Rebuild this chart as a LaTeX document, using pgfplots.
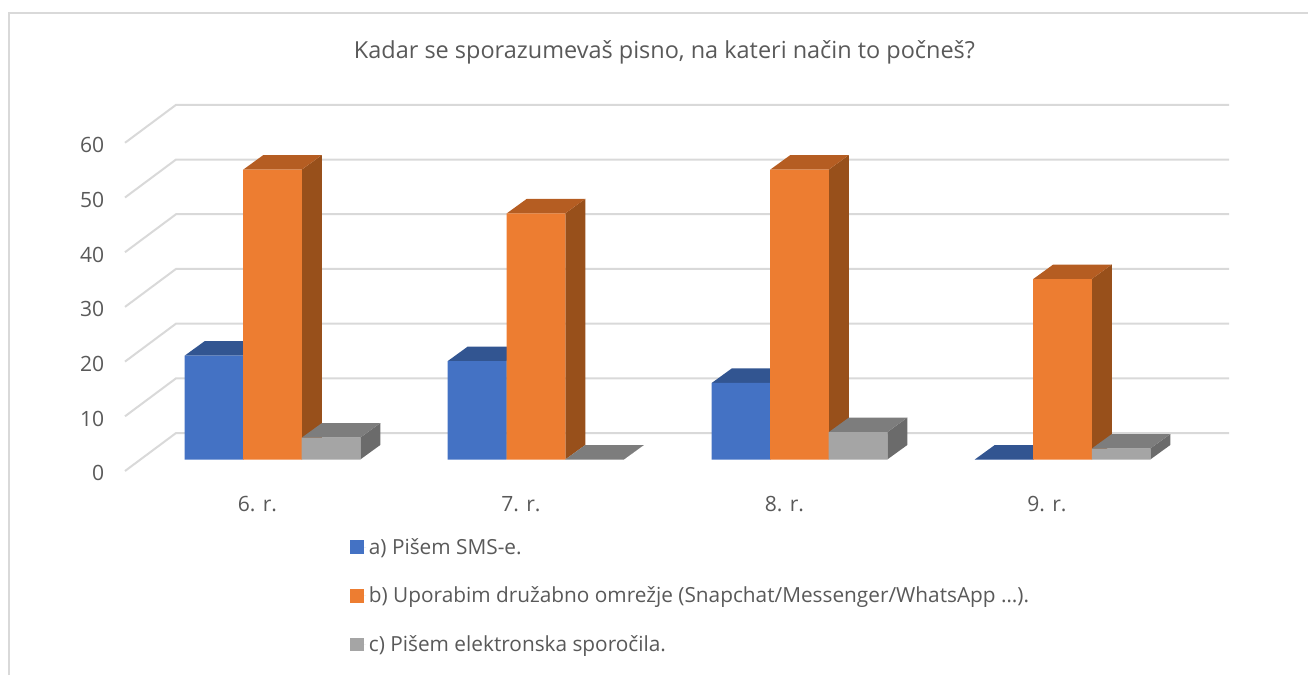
\documentclass[border=0pt]{standalone}
\usepackage{pgfplots}
\pgfplotsset{compat=1.18}
\usepackage{pgfplotstable}
\usepackage{fontspec}
\setmainfont{Open Sans}
\definecolor{txt}{HTML}{595959}
\definecolor{gridc}{HTML}{D9D9D9}
\definecolor{bluef}{HTML}{4472C4}
\definecolor{bluet}{HTML}{325591}
\definecolor{orangef}{HTML}{ED7D31}
\definecolor{oranget}{HTML}{B55D22}
\definecolor{oranges}{HTML}{98501B}
\definecolor{grayf}{HTML}{A5A5A5}
\definecolor{grayt}{HTML}{7D7D7D}
\definecolor{grays}{HTML}{6B6B6B}
\pgfplotstableread{
x v
214 19
477 18
741 14
1004 0
}\seriesa
\pgfplotstableread{
x v
272.5 53
536 45
799.5 53
1062.5 33
}\seriesb
\pgfplotstableread{
x v
331 4
594.5 0
858 5
1121 2
}\seriesc
% side and top face of a bar: centre x, value, top colour, side colour
\newcommand{\cube}[4]{%
  \pgfmathsetmacro{\xa}{#1-29.25}\pgfmathsetmacro{\xb}{#1+29.25}%
  \pgfmathsetmacro{\xc}{#1+49.25}\pgfmathsetmacro{\xd}{#1-9.25}%
  \pgfmathsetmacro{\yt}{#2+2.65}%
  \edef\cubecmd{%
    \noexpand\addplot[fill=#4,draw=none,forget plot] coordinates {(\xb,0)(\xc,2.65)(\xc,\yt)(\xb,#2)} -- cycle;
    \noexpand\addplot[fill=#3,draw=none,forget plot] coordinates {(\xa,#2)(\xb,#2)(\xc,\yt)(\xd,\yt)} -- cycle;
  }\cubecmd}
\begin{document}
\begin{tikzpicture}[x=0.75pt,y=0.75pt]
\path[use as bounding box] (-125,-204) rectangle (1183,471);
\draw[gridc,line width=1.5pt] (-116,-204) -- (-116,457.5) -- (1183,457.5);
\begin{axis}[
  at={(0,0)},anchor=south west,
  scale only axis,width=828.75pt,height=274.5pt,
  xmin=125,xmax=1230,ymin=-2.1,ymax=64.81,
  clip=false,
  axis line style={draw=none},
  major tick length=0pt,
  xtick={257.5,521,784.5,1047},
  xticklabels={6. r.,7. r.,8. r.,9. r.},
  ytick={0,10,20,30,40,50,60},
  /pgf/number format/assume math mode=true,
  tick label style={font=\fontsize{15.8pt}{18pt}\selectfont,text=txt},
  yticklabel style={yshift=-10.4pt,xshift=-12pt},
  xticklabel style={yshift=-15.2pt},
  title={Kadar se sporazumevaš pisno, na kateri način to počneš?},
  title style={at={(0.4882,1.122)},anchor=center,yshift=0pt,font=\fontsize{17.6pt}{20pt}\selectfont,text=txt},
  legend style={at={(0.2036,-0.176)},anchor=north west,draw=none,fill=none,
    font=\fontsize{15.6pt}{18pt}\selectfont,text=txt,
    row sep=19pt,legend cell align=left,inner sep=0pt},
  legend image code/.code={\path (0pt,0pt) -- (12pt,0pt);\fill[#1] (0pt,-5.2pt) rectangle (10.5pt,5.2pt);},
]
% floor and wall gridlines
\addplot[gridc,line width=1.5pt,forget plot] coordinates {(125,-2.1)(176,4.84)(1229,4.84)};
\addplot[gridc,line width=1.5pt,forget plot] coordinates {(125,7.9)(176,14.84)(1229,14.84)};
\addplot[gridc,line width=1.5pt,forget plot] coordinates {(125,17.9)(176,24.84)(1229,24.84)};
\addplot[gridc,line width=1.5pt,forget plot] coordinates {(125,27.9)(176,34.84)(1229,34.84)};
\addplot[gridc,line width=1.5pt,forget plot] coordinates {(125,37.9)(176,44.84)(1229,44.84)};
\addplot[gridc,line width=1.5pt,forget plot] coordinates {(125,47.9)(176,54.84)(1229,54.84)};
\addplot[gridc,line width=1.5pt,forget plot] coordinates {(125,57.9)(176,64.84)(1229,64.84)};
% series a
\cube{214}{19}{bluet}{bluet}
\cube{477}{18}{bluet}{bluet}
\cube{741}{14}{bluet}{bluet}
\cube{1004}{0}{bluet}{bluet}
\addplot[ybar,bar width=43.9pt,bar shift=0pt,fill=bluef,draw=none] table[x=x,y=v] {\seriesa};
\addlegendentry{a) Pišem SMS-e.}
% series b
\cube{272.5}{53}{oranget}{oranges}
\cube{536}{45}{oranget}{oranges}
\cube{799.5}{53}{oranget}{oranges}
\cube{1062.5}{33}{oranget}{oranges}
\addplot[ybar,bar width=43.9pt,bar shift=0pt,fill=orangef,draw=none] table[x=x,y=v] {\seriesb};
\addlegendentry{b) Uporabim družabno omrežje (Snapchat/Messenger/WhatsApp …).}
% series c
\cube{331}{4}{grayt}{grays}
\cube{594.5}{0}{grayt}{grays}
\cube{858}{5}{grayt}{grays}
\cube{1121}{2}{grayt}{grays}
\addplot[ybar,bar width=43.9pt,bar shift=0pt,fill=grayf,draw=none] table[x=x,y=v] {\seriesc};
\addlegendentry{c) Pišem elektronska sporočila.}
\end{axis}
\end{tikzpicture}
\end{document}
